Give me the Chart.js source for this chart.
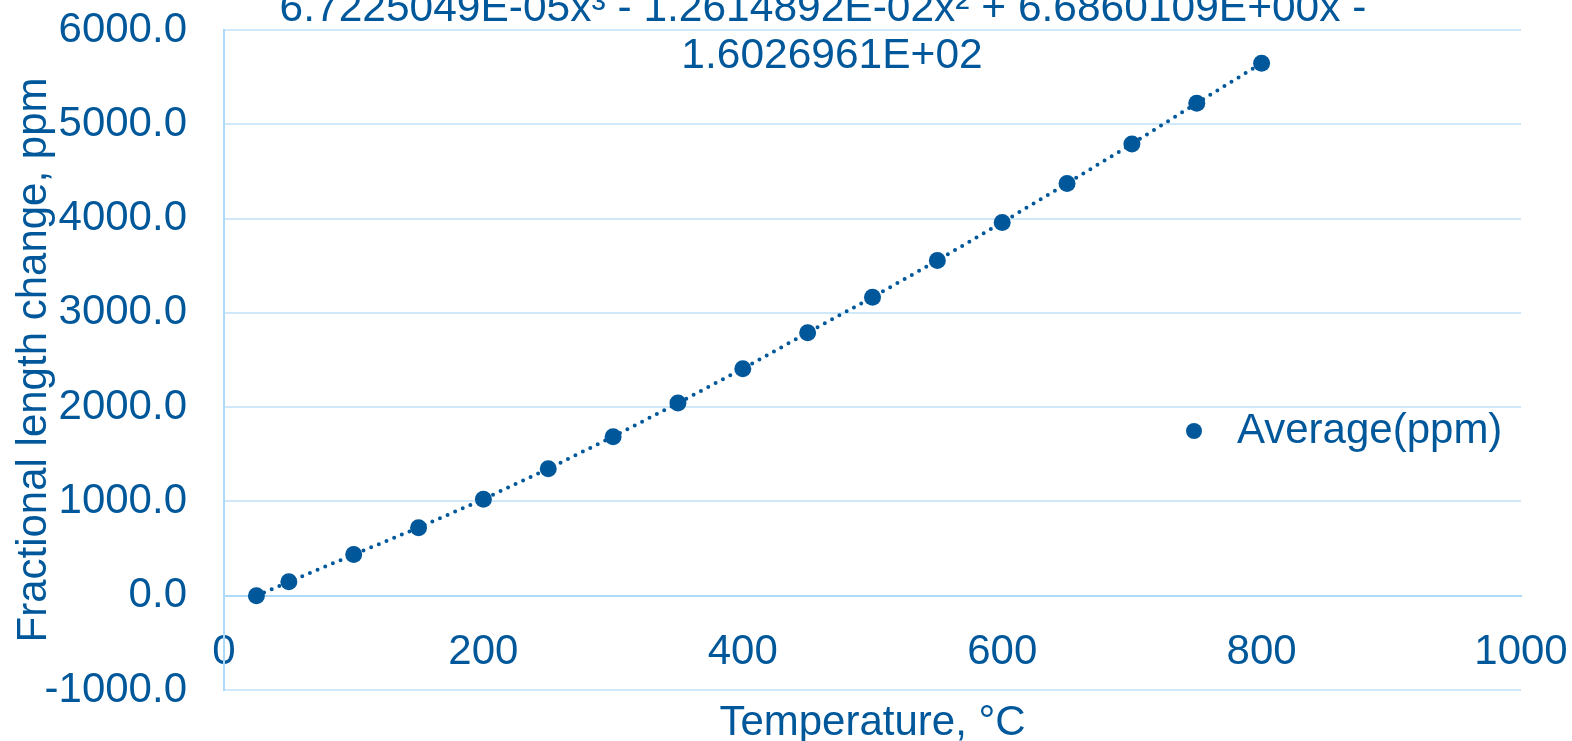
<!DOCTYPE html>
<html>
<head>
<meta charset="utf-8">
<script src="https://cdn.jsdelivr.net/npm/chart.js@4.4.1/dist/chart.umd.min.js"></script>
<style>
  html, body { margin: 0; padding: 0; background: #fff; }
  #wrap { width: 1572px; height: 741px; overflow: hidden; }
</style>
</head>
<body>
<div id="wrap"><canvas id="chart" width="1572" height="741"></canvas></div>
<script>
// data
const temperatures = [25, 50, 100, 150, 200, 250, 300, 350, 400, 450, 500, 550, 600, 650, 700, 750, 800];
const averagePpm = [0, 147, 436, 722, 1024, 1347, 1687, 2043, 2408, 2789, 3166, 3556, 3959, 4373, 4792, 5224, 5648];
const seriesLabel = 'Average(ppm)';
const xTitle = 'Temperature, \u00B0C';
const yTitle = 'Fractional length change, ppm';
const equationLines = [
    '6.7225049E-05x\u00B3 - 1.2614892E-02x\u00B2 + 6.6860109E+00x -',
    '1.6026961E+02'
];

const BLUE = '#00589B';
const GRID = '#CFE9FB';
const AXIS = '#AEDAFA';
const FONT = '"Liberation Sans", Arial, sans-serif';

// equation, x title and legend are drawn on top of the chart
const overlayText = {
    id: 'overlayText',
    afterDraw(chart) {
        const ctx = chart.ctx;
        const area = chart.chartArea;
        const midX = (area.left + area.right) / 2;
        ctx.save();
        ctx.fillStyle = BLUE;
        ctx.font = '42.5px ' + FONT;
        ctx.textAlign = 'center';
        ctx.textBaseline = 'middle';
        ctx.fillText(equationLines[0], 823, 9);
        ctx.fillText(equationLines[1], 832, 56);

        ctx.font = '42px ' + FONT;
        ctx.textBaseline = 'alphabetic';
        ctx.fillText(xTitle, midX, 735);

        // legend
        ctx.beginPath();
        ctx.arc(1194, 431, 8, 0, Math.PI * 2);
        ctx.fill();
        ctx.textAlign = 'left';
        ctx.textBaseline = 'middle';
        ctx.fillText(seriesLabel, 1237, 431);
        ctx.restore();
    }
};

new Chart(document.getElementById('chart'), {
    type: 'scatter',
    data: {
        datasets: [{
            label: seriesLabel,
            data: temperatures.map((t, i) => ({ x: t, y: averagePpm[i] })),
            showLine: true,
            borderColor: BLUE,
            borderWidth: 4,
            borderDash: [0, 8.3],
            borderCapStyle: 'round',
            backgroundColor: BLUE,
            pointRadius: 8.5,
            pointBorderWidth: 0,
            tension: 0
        }]
    },
    options: {
        responsive: false,
        animation: false,
        devicePixelRatio: 1,
        layout: { padding: { top: 30, bottom: 51, right: 51, left: 0 } },
        plugins: {
            legend: { display: false },
            tooltip: { enabled: false }
        },
        scales: {
            x: {
                type: 'linear',
                position: { y: 0 },
                min: 0,
                max: 1000,
                afterFit(scale) { scale.paddingLeft = 0; scale.paddingRight = 0; },
                ticks: {
                    stepSize: 200,
                    color: BLUE,
                    font: { family: FONT, size: 42 },
                    padding: 32,
                    maxRotation: 0,
                    callback: v => String(v)
                },
                grid: { display: false, drawTicks: false },
                border: { display: true, color: AXIS, width: 2 }
            },
            y: {
                type: 'linear',
                min: -1000,
                max: 6000,
                afterFit(scale) {
                    scale.width = 224;
                    scale.paddingTop = 0;
                    scale.paddingBottom = 0;
                },
                ticks: {
                    stepSize: 1000,
                    color: BLUE,
                    font: { family: FONT, size: 42 },
                    padding: 37,
                    callback: v => v.toFixed(1)
                },
                grid: { color: GRID, lineWidth: 2, drawTicks: false },
                border: { display: true, color: AXIS, width: 2 },
                title: {
                    display: true,
                    text: yTitle,
                    color: BLUE,
                    font: { family: FONT, size: 42 },
                    padding: { top: 9, bottom: 0 }
                }
            }
        }
    },
    plugins: [overlayText]
});
</script>
</body>
</html>
